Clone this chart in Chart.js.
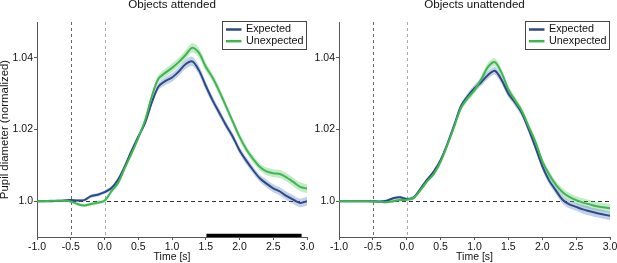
<!DOCTYPE html>
<html>
<head>
<meta charset="utf-8">
<script src="https://cdn.jsdelivr.net/npm/chart.js@4/dist/chart.umd.min.js"></script>
<style>
    html, body { margin: 0; padding: 0; background: #fff; overflow: hidden; }
    body { width: 617px; height: 263px; position: relative; }
    canvas { position: absolute; top: -3px; }
    #chartAttended { left: -2px; }
    #chartUnattended { left: 305px; }
</style>
</head>
<body>
<canvas id="chartAttended" width="322" height="266"></canvas>
<canvas id="chartUnattended" width="314" height="266"></canvas>
<script>
// time axis [s]
const time = [-1.0, -0.9, -0.8, -0.7, -0.6, -0.5, -0.4, -0.3, -0.2, -0.1,
    0.0, 0.1, 0.2, 0.3, 0.4, 0.5, 0.6, 0.7, 0.8, 0.9,
    1.0, 1.1, 1.2, 1.3, 1.4, 1.5, 1.6, 1.7, 1.8, 1.9,
    2.0, 2.1, 2.2, 2.3, 2.4, 2.5, 2.6, 2.7, 2.8, 2.9, 3.0];

const seriesNames = ["Expected", "Unexpected"];

// objects attended
const attendedExpected = [1.0000, 1.0000, 1.0000, 1.0001, 1.0002, 1.0003, 1.0002, 1.0003, 1.0014, 1.0018,
    1.0025, 1.0036, 1.0060, 1.0097, 1.0140, 1.0180, 1.0218, 1.0275, 1.0320, 1.0335,
    1.0345, 1.0362, 1.0382, 1.0390, 1.0365, 1.0322, 1.0282, 1.0247, 1.0212, 1.0180,
    1.0142, 1.0113, 1.0087, 1.0064, 1.0049, 1.0036, 1.0027, 1.0014, 1.0004, 0.9995, 1.0000];
const attendedUnexpected = [1.0000, 1.0000, 1.0001, 1.0001, 1.0001, 0.9999, 0.9992, 0.9988, 0.9992, 0.9996,
    1.0001, 1.0027, 1.0050, 1.0092, 1.0133, 1.0176, 1.0225, 1.0292, 1.0342, 1.0358,
    1.0372, 1.0388, 1.0408, 1.0428, 1.0414, 1.0375, 1.0345, 1.0307, 1.0265, 1.0222,
    1.0180, 1.0145, 1.0118, 1.0096, 1.0083, 1.0078, 1.0076, 1.0066, 1.0053, 1.0040, 1.0035];
const attendedSem = [0.0002, 0.0002, 0.0002, 0.0002, 0.0002, 0.0003, 0.0004, 0.0004, 0.0005, 0.0005,
    0.0005, 0.0006, 0.0006, 0.0006, 0.0006, 0.0006, 0.0007, 0.0008, 0.0010, 0.0011,
    0.0012, 0.0012, 0.0013, 0.0013, 0.0013, 0.0012, 0.0011, 0.0011, 0.0010, 0.0010,
    0.0010, 0.0010, 0.0010, 0.0010, 0.0011, 0.0011, 0.0011, 0.0012, 0.0012, 0.0012, 0.0012];

// objects unattended
const unattendedExpected = [1.0000, 1.0000, 1.0000, 1.0000, 1.0000, 1.0000, 0.9999, 1.0001, 1.0008, 1.0011,
    1.0006, 1.0010, 1.0034, 1.0060, 1.0083, 1.0115, 1.0160, 1.0212, 1.0265, 1.0293,
    1.0315, 1.0332, 1.0352, 1.0364, 1.0338, 1.0300, 1.0275, 1.0245, 1.0200, 1.0150,
    1.0098, 1.0058, 1.0030, 1.0004, 0.9991, 0.9984, 0.9977, 0.9972, 0.9967, 0.9963, 0.9959];
const unattendedUnexpected = [1.0000, 1.0000, 1.0000, 1.0000, 1.0000, 0.9999, 0.9998, 0.9997, 1.0000, 1.0003,
    1.0004, 1.0009, 1.0030, 1.0055, 1.0076, 1.0110, 1.0157, 1.0208, 1.0260, 1.0288,
    1.0310, 1.0340, 1.0375, 1.0388, 1.0358, 1.0312, 1.0281, 1.0251, 1.0208, 1.0165,
    1.0112, 1.0075, 1.0046, 1.0025, 1.0012, 1.0003, 0.9996, 0.9991, 0.9986, 0.9983, 0.9980];
const unattendedSem = [0.0002, 0.0002, 0.0002, 0.0002, 0.0002, 0.0002, 0.0003, 0.0003, 0.0004, 0.0004,
    0.0004, 0.0005, 0.0005, 0.0005, 0.0005, 0.0005, 0.0006, 0.0007, 0.0008, 0.0009,
    0.0010, 0.0010, 0.0011, 0.0011, 0.0011, 0.0010, 0.0010, 0.0010, 0.0010, 0.0010,
    0.0010, 0.0010, 0.0010, 0.0011, 0.0011, 0.0011, 0.0012, 0.0012, 0.0012, 0.0012, 0.0012];

const yTicks = [1.0, 1.02, 1.04];
const markerTimes = [-0.5, 0.0];     // dashed vertical lines
const baseline = 1.0;                // dashed horizontal line
const sigWindow = [1.51, 2.92];      // significance bar (attended only)
const sigLevel = 0.9904;

const lineColors = ["#2a4b86", "#3fb64f"];
const bandColors = ["rgba(70, 110, 190, 0.32)", "rgba(80, 195, 95, 0.34)"];
const fontFamily = '"Liberation Sans", Arial, sans-serif';

const refLines = {
    id: "refLines",
    beforeDatasetsDraw(chart) {
        const { ctx, chartArea: a, scales: { x, y } } = chart;
        ctx.save();
        ctx.lineWidth = 1;
        ctx.setLineDash([3, 3]);
        const vColors = ["#666", "#aaa"];
        markerTimes.forEach((t, i) => {
            const px = Math.round(x.getPixelForValue(t)) + 0.5;
            ctx.strokeStyle = vColors[i];
            ctx.beginPath();
            ctx.moveTo(px, a.top);
            ctx.lineTo(px, a.bottom);
            ctx.stroke();
        });
        const py = Math.round(y.getPixelForValue(baseline)) + 0.5;
        ctx.strokeStyle = "#333";
        ctx.setLineDash([4, 3]);
        ctx.beginPath();
        ctx.moveTo(a.left, py);
        ctx.lineTo(a.right, py);
        ctx.stroke();
        ctx.restore();
    }
};

const boxLegend = {
    id: "boxLegend",
    afterDraw(chart) {
        const { ctx, chartArea: a } = chart;
        const w = 85, h = 29;
        const left = Math.round(a.right - w), top = Math.round(a.top - 1);
        ctx.save();
        ctx.fillStyle = "#fff";
        ctx.fillRect(left, top, w, h);
        ctx.strokeStyle = "#444";
        ctx.lineWidth = 1;
        ctx.strokeRect(left + 0.5, top + 0.5, w - 1, h - 1);
        ctx.font = "10.8px " + fontFamily;
        ctx.textBaseline = "middle";
        seriesNames.forEach((name, i) => {
            const cy = top + 8.5 + i * 11.7;
            ctx.strokeStyle = lineColors[i];
            ctx.lineWidth = 2.5;
            ctx.beginPath();
            ctx.moveTo(left + 4, cy);
            ctx.lineTo(left + 19.5, cy);
            ctx.stroke();
            ctx.fillStyle = "#111";
            ctx.fillText(name, left + 24, cy);
        });
        ctx.restore();
    }
};

const pts = (vals, sem, sign) => vals.map((v, i) => ({ x: time[i], y: v + sign * sem[i] }));

const createPanel = (id, title, expected, unexpected, sem, opts) => {
    const series = [expected, unexpected];
    const datasets = [];
    // lines (drawn on top)
    series.forEach((vals, i) => {
        datasets.push({
            label: seriesNames[i], data: pts(vals, sem, 0),
            borderColor: lineColors[i], borderWidth: 2, pointRadius: 0,
            tension: 0.3, fill: false, order: 1 - i
        });
    });
    // sem bands
    series.forEach((vals, i) => {
        datasets.push({
            label: "upper", data: pts(vals, sem, 1), borderWidth: 0, pointRadius: 0,
            tension: 0.3, fill: false, order: 3
        });
        datasets.push({
            label: "lower", data: pts(vals, sem, -1), borderWidth: 0, pointRadius: 0,
            tension: 0.3, fill: "-1", backgroundColor: bandColors[i], order: 3
        });
    });
    if (opts.sigBar) {
        datasets.push({
            label: "sig", data: sigWindow.map(t => ({ x: t, y: sigLevel })),
            borderColor: "#000", borderWidth: 3.5, borderCapStyle: "butt",
            pointRadius: 0, fill: false, order: 0
        });
    }

    new Chart(document.getElementById(id), {
        type: "line",
        data: { datasets: datasets },
        plugins: [refLines, boxLegend],
        options: {
            responsive: false,
            animation: false,
            layout: { padding: { left: 0, right: opts.padRight, top: 0, bottom: 0 } },
            plugins: {
                legend: { display: false },
                tooltip: { enabled: false },
                title: {
                    display: true, text: title, fullSize: false, color: "#111",
                    font: { family: fontFamily, size: 11.6, weight: "normal" },
                    padding: { top: 1, bottom: 10.08 }
                }
            },
            scales: {
                x: {
                    type: "linear", min: -1, max: 3,
                    afterFit: s => { s.height = 26; },
                    ticks: {
                        stepSize: 0.5, padding: 1, color: "#111",
                        font: { family: fontFamily, size: 10.5 },
                        callback: v => v.toFixed(1)
                    },
                    grid: { drawOnChartArea: false, drawTicks: true, tickLength: 3, color: "#555" },
                    border: { color: "#555" },
                    title: {
                        display: true, text: "Time [s]", color: "#111",
                        font: { family: fontFamily, size: 10.5 }, padding: { top: 0, bottom: 0 }
                    }
                },
                y: {
                    min: 0.99, max: 1.05,
                    afterFit: s => { s.width = opts.yWidth; },
                    afterBuildTicks: s => { s.ticks = yTicks.map(v => ({ value: v })); },
                    ticks: {
                        padding: 1, color: "#111",
                        font: { family: fontFamily, size: 10.5 },
                        callback: v => (v === 1 ? "1.0" : v.toFixed(2))
                    },
                    grid: { drawOnChartArea: false, drawTicks: true, tickLength: 3, color: "#555" },
                    border: { color: "#555" },
                    title: {
                        display: opts.yTitle, text: "Pupil diameter (normalized)", color: "#111",
                        font: { family: fontFamily, size: 11.4 }, padding: { top: 0, bottom: 0 }
                    }
                }
            }
        }
    });
};

createPanel("chartAttended", "Objects attended", attendedExpected, attendedUnexpected, attendedSem,
    { yWidth: 39, padRight: 13, yTitle: true, sigBar: true });
createPanel("chartUnattended", "Objects unattended", unattendedExpected, unattendedUnexpected, unattendedSem,
    { yWidth: 34, padRight: 9, yTitle: false, sigBar: false });
</script>
</body>
</html>
